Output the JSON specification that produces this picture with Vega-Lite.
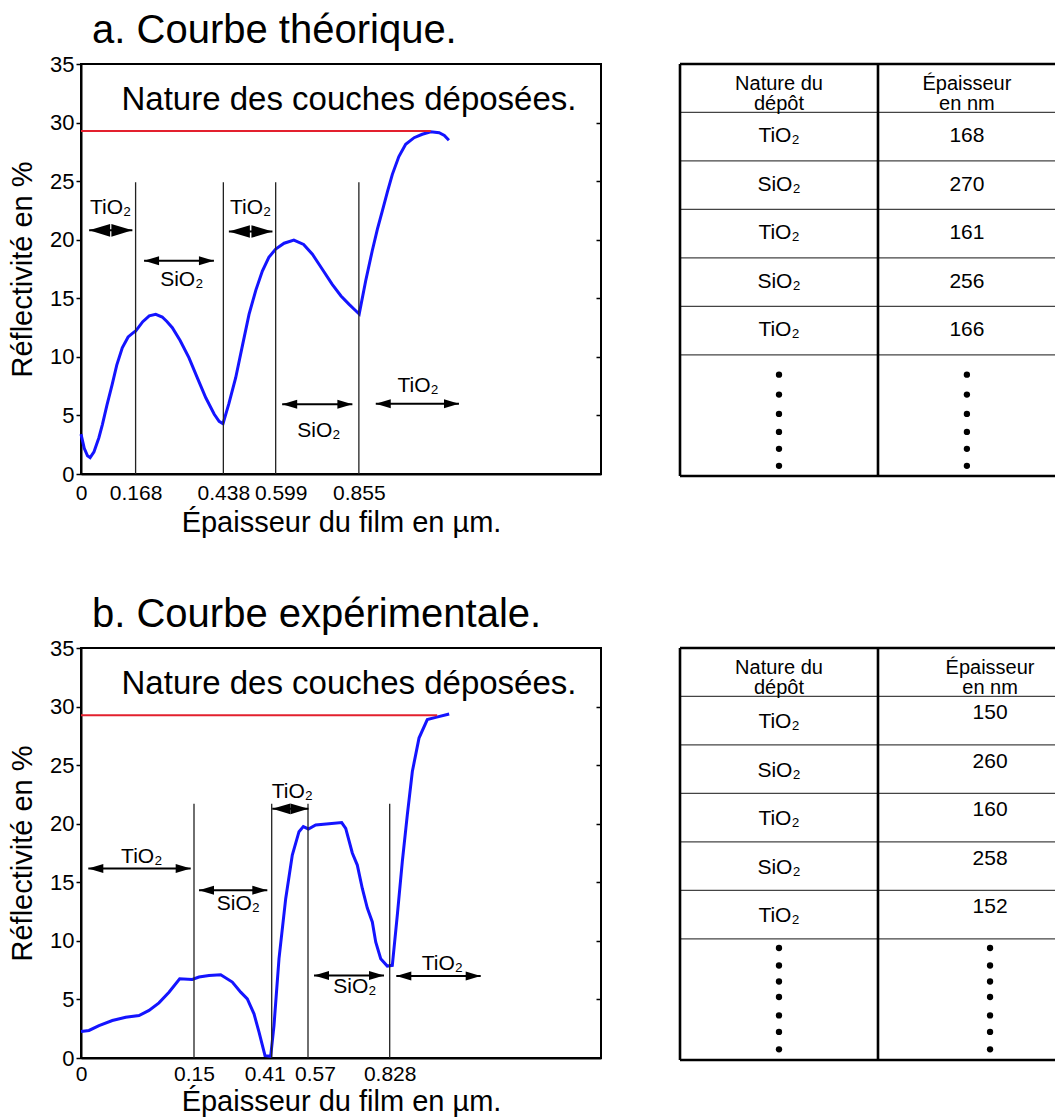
{
  "$schema": "https://vega.github.io/schema/vega-lite/v6.json",
  "background": "white",
  "padding": {"left": 7, "top": 10, "right": 0, "bottom": 0},
  "bounds": "flush",
  "columns": 2,
  "spacing": {"row": 172, "column": 79},
  "config": {
    "font": "Liberation Sans",
    "view": {"stroke": null},
    "axis": {"grid": false, "labelFont": "Liberation Sans", "titleFont": "Liberation Sans", "labelFontSize": 22, "titleFontSize": 29, "titleFontWeight": "normal", "labelColor": "black", "titleColor": "black", "domainColor": "black", "domainWidth": 2, "tickColor": "black", "tickWidth": 1.5, "labelOverlap": false, "labelFlush": false},
    "text": {"font": "Liberation Sans", "color": "black"}
  },
  "datasets": {
    "courbeA": [
      {"x": 0, "y": 3.4}, {"x": 0.01, "y": 2.2}, {"x": 0.02, "y": 1.55}, {"x": 0.028, "y": 1.4}, {"x": 0.04, "y": 1.9},
      {"x": 0.055, "y": 3.1}, {"x": 0.066, "y": 4.24}, {"x": 0.08, "y": 5.9}, {"x": 0.096, "y": 7.66}, {"x": 0.11, "y": 9.3},
      {"x": 0.127, "y": 10.78}, {"x": 0.145, "y": 11.7}, {"x": 0.16, "y": 12.05}, {"x": 0.168, "y": 12.2}, {"x": 0.19, "y": 13.0},
      {"x": 0.21, "y": 13.5}, {"x": 0.23, "y": 13.63}, {"x": 0.25, "y": 13.4}, {"x": 0.265, "y": 13.0}, {"x": 0.281, "y": 12.49},
      {"x": 0.305, "y": 11.4}, {"x": 0.332, "y": 9.93}, {"x": 0.358, "y": 8.2}, {"x": 0.384, "y": 6.51}, {"x": 0.41, "y": 5.1},
      {"x": 0.425, "y": 4.5}, {"x": 0.437, "y": 4.29}, {"x": 0.455, "y": 6.0}, {"x": 0.476, "y": 8.22}, {"x": 0.497, "y": 11.0},
      {"x": 0.517, "y": 13.63}, {"x": 0.538, "y": 15.7}, {"x": 0.558, "y": 17.33}, {"x": 0.578, "y": 18.5}, {"x": 0.599, "y": 19.2},
      {"x": 0.625, "y": 19.7}, {"x": 0.655, "y": 19.97}, {"x": 0.685, "y": 19.6}, {"x": 0.712, "y": 18.76}, {"x": 0.742, "y": 17.5},
      {"x": 0.773, "y": 16.19}, {"x": 0.8, "y": 15.2}, {"x": 0.825, "y": 14.48}, {"x": 0.843, "y": 14.0}, {"x": 0.856, "y": 13.65},
      {"x": 0.876, "y": 16.5}, {"x": 0.896, "y": 19.04}, {"x": 0.912, "y": 20.9}, {"x": 0.927, "y": 22.45}, {"x": 0.943, "y": 24.1},
      {"x": 0.958, "y": 25.58}, {"x": 0.978, "y": 27.1}, {"x": 0.999, "y": 28.15}, {"x": 1.025, "y": 28.71}, {"x": 1.05, "y": 29.0},
      {"x": 1.076, "y": 29.22}, {"x": 1.102, "y": 29.14}, {"x": 1.118, "y": 28.9}, {"x": 1.132, "y": 28.49}
    ],
    "courbeB": [
      {"x": 0, "y": 2.26}, {"x": 0.0106, "y": 2.35}, {"x": 0.0239, "y": 2.77}, {"x": 0.0416, "y": 3.2}, {"x": 0.0593, "y": 3.48},
      {"x": 0.077, "y": 3.63}, {"x": 0.0903, "y": 4.06}, {"x": 0.1035, "y": 4.71}, {"x": 0.1168, "y": 5.62}, {"x": 0.131, "y": 6.76},
      {"x": 0.1477, "y": 6.71}, {"x": 0.1667, "y": 6.91}, {"x": 0.2002, "y": 7.05}, {"x": 0.2393, "y": 7.11}, {"x": 0.2782, "y": 6.48},
      {"x": 0.3063, "y": 5.62}, {"x": 0.3284, "y": 5.05}, {"x": 0.3508, "y": 3.77}, {"x": 0.3676, "y": 2.2}, {"x": 0.3876, "y": 0.2},
      {"x": 0.4066, "y": 0.15}, {"x": 0.4201, "y": 2.77}, {"x": 0.4422, "y": 8.48}, {"x": 0.4717, "y": 13.6}, {"x": 0.5008, "y": 17.33},
      {"x": 0.5303, "y": 19.32}, {"x": 0.5493, "y": 19.75}, {"x": 0.5713, "y": 19.55}, {"x": 0.5943, "y": 19.9}, {"x": 0.6363, "y": 20.0},
      {"x": 0.6764, "y": 20.1}, {"x": 0.6891, "y": 19.6}, {"x": 0.7099, "y": 17.5}, {"x": 0.7257, "y": 16.47}, {"x": 0.7415, "y": 14.47},
      {"x": 0.7573, "y": 12.8}, {"x": 0.7731, "y": 11.62}, {"x": 0.7838, "y": 9.9}, {"x": 0.7996, "y": 8.48}, {"x": 0.8204, "y": 7.85},
      {"x": 0.8363, "y": 7.91}, {"x": 0.8522, "y": 12.19}, {"x": 0.8681, "y": 16.76}, {"x": 0.884, "y": 20.75}, {"x": 0.9, "y": 24.46},
      {"x": 0.9212, "y": 27.31}, {"x": 0.9476, "y": 28.89}, {"x": 0.9743, "y": 29.08}, {"x": 1.0172, "y": 29.37}
    ],
    "limitesA": [{"x": 0.168}, {"x": 0.438}, {"x": 0.599}, {"x": 0.855}],
    "limitesB": [{"x": 0.15}, {"x": 0.41}, {"x": 0.57}, {"x": 0.828}],
    "rougeA": [{"x": 0, "y": 29.28}, {"x": 1.076, "y": 29.28}],
    "rougeB": [{"x": 0, "y": 29.25}, {"x": 0.979, "y": 29.25}],
    "flechesA": [
      {"couche": "SiO₂", "x1": 0.194, "x2": 0.409, "y": 18.2},
      {"couche": "SiO₂", "x1": 0.619, "x2": 0.835, "y": 5.95},
      {"couche": "TiO₂", "x1": 0.907, "x2": 1.163, "y": 6.0}
    ],
    "courtesA": [
      {"couche": "TiO₂", "x1": 0.025, "x2": 0.158, "y": 20.8},
      {"couche": "TiO₂", "x1": 0.455, "x2": 0.589, "y": 20.7}
    ],
    "etiquettesA": [
      {"t": "TiO₂", "x": 0.091, "y": 22.7},
      {"t": "SiO₂", "x": 0.31, "y": 16.55},
      {"t": "TiO₂", "x": 0.522, "y": 22.7},
      {"t": "SiO₂", "x": 0.732, "y": 3.63},
      {"t": "TiO₂", "x": 1.037, "y": 7.47}
    ],
    "flechesB": [
      {"couche": "TiO₂", "x1": 0.0097, "x2": 0.1456, "y": 16.18},
      {"couche": "SiO₂", "x1": 0.1667, "x2": 0.3953, "y": 14.33},
      {"couche": "SiO₂", "x1": 0.589, "x2": 0.81, "y": 7.05},
      {"couche": "TiO₂", "x1": 0.849, "x2": 1.1174, "y": 7.0}
    ],
    "courtesB": [
      {"couche": "TiO₂", "x1": 0.4126, "x2": 0.5713, "y": 21.27}
    ],
    "etiquettesB": [
      {"t": "TiO₂", "x": 0.0806, "y": 17.2},
      {"t": "SiO₂", "x": 0.2983, "y": 13.18},
      {"t": "TiO₂", "x": 0.5008, "y": 22.7},
      {"t": "SiO₂", "x": 0.7178, "y": 6.05},
      {"t": "TiO₂", "x": 0.9953, "y": 8.05}
    ],
    "tableauA": [
      {"rang": 1, "nature": "TiO₂", "ep": 168},
      {"rang": 2, "nature": "SiO₂", "ep": 270},
      {"rang": 3, "nature": "TiO₂", "ep": 161},
      {"rang": 4, "nature": "SiO₂", "ep": 256},
      {"rang": 5, "nature": "TiO₂", "ep": 166}
    ],
    "tableauB": [
      {"rang": 1, "nature": "TiO₂", "ep": 150},
      {"rang": 2, "nature": "SiO₂", "ep": 260},
      {"rang": 3, "nature": "TiO₂", "ep": 160},
      {"rang": 4, "nature": "SiO₂", "ep": 258},
      {"rang": 5, "nature": "TiO₂", "ep": 152}
    ],
    "lignes": [{"y": 1}, {"y": 2}, {"y": 3}, {"y": 4}, {"y": 5}, {"y": 6}],
    "bordsH": [{"y": 0}, {"y": 8.5}],
    "bordsV": [{"x": 0}, {"x": 1}],
    "entetes": [{"col1": "Nature du\ndépôt", "col2": "Épaisseur\nen nm"}],
    "pointsA": [{"y": 6.41}, {"y": 6.82}, {"y": 7.22}, {"y": 7.59}, {"y": 7.94}, {"y": 8.29}],
    "pointsB": [{"y": 6.19}, {"y": 6.55}, {"y": 6.88}, {"y": 7.2}, {"y": 7.58}, {"y": 7.92}, {"y": 8.28}],
    "titre": [{"t": "Nature des couches déposées."}],
    "titreA": [{"t": "a. Courbe théorique."}],
    "titreB": [{"t": "b. Courbe expérimentale."}]
  },
  "concat": [
    {
      "width": 520, "height": 410,
      "view": {"stroke": "black", "strokeWidth": 2},
      "resolve": {"axis": {"x": "independent", "y": "independent"}},
      "layer": [
        {
          "data": {"name": "courbeA"},
          "mark": {"type": "line", "color": "#1414ff", "strokeWidth": 3},
          "encoding": {
            "x": {"field": "x", "type": "quantitative", "scale": {"domain": [0, 1.6], "nice": false, "zero": false},
              "axis": {"title": "Épaisseur du film en µm.", "values": [0, 0.168, 0.438, 0.599, 0.855], "labelExpr": "datum.value + ''", "ticks": false, "labelPadding": 8, "titlePadding": 5, "labelFontSize": 21,
                "labelOffset": {"condition": {"test": "datum.value == 0.599", "value": 5}, "value": 0}}},
            "y": {"field": "y", "type": "quantitative", "scale": {"domain": [0, 35], "nice": false, "zero": false},
              "axis": {"title": "Réflectivité en %", "values": [0, 5, 10, 15, 20, 25, 30, 35], "tickSize": 5, "labelPadding": 2, "titlePadding": 12}}
          }
        },
        {
          "data": {"name": "limitesA"},
          "mark": {"type": "rule", "color": "#222", "strokeWidth": 1.3},
          "encoding": {
            "x": {"field": "x", "type": "quantitative", "axis": null},
            "y": {"datum": 0, "type": "quantitative", "axis": null},
            "y2": {"datum": 24.9}
          }
        },
        {
          "data": {"name": "rougeA"},
          "mark": {"type": "line", "color": "#e3202e", "strokeWidth": 2},
          "encoding": {
            "x": {"field": "x", "type": "quantitative", "axis": null},
            "y": {"field": "y", "type": "quantitative", "axis": {"orient": "right", "labels": false, "domain": false, "title": null, "tickSize": -5, "values": [5, 10, 15, 20, 25, 30]}}
          }
        },
        {
          "data": {"name": "flechesA"},
          "mark": {"type": "rule", "color": "black", "strokeWidth": 2},
          "encoding": {
            "x": {"field": "x1", "type": "quantitative", "axis": null},
            "x2": {"field": "x2"},
            "y": {"field": "y", "type": "quantitative", "axis": null}
          }
        },
        {
          "data": {"name": "flechesA"},
          "mark": {"type": "point", "shape": "M0,0L2,-0.6L2,0.6Z", "filled": true, "color": "black", "opacity": 1, "size": 225, "strokeWidth": 0},
          "encoding": {
            "x": {"field": "x1", "type": "quantitative", "axis": null},
            "y": {"field": "y", "type": "quantitative", "axis": null}
          }
        },
        {
          "data": {"name": "flechesA"},
          "mark": {"type": "point", "shape": "M0,0L-2,-0.6L-2,0.6Z", "filled": true, "color": "black", "opacity": 1, "size": 225, "strokeWidth": 0},
          "encoding": {
            "x": {"field": "x2", "type": "quantitative", "axis": null},
            "y": {"field": "y", "type": "quantitative", "axis": null}
          }
        },
        {
          "data": {"name": "courtesA"},
          "mark": {"type": "rule", "color": "black", "strokeWidth": 2},
          "encoding": {
            "x": {"field": "x1", "type": "quantitative", "axis": null},
            "x2": {"field": "x2"},
            "y": {"field": "y", "type": "quantitative", "axis": null}
          }
        },
        {
          "data": {"name": "courtesA"},
          "mark": {"type": "point", "shape": "M0,0L2,-0.6L2,0.6Z", "filled": true, "color": "black", "opacity": 1, "size": 441, "strokeWidth": 0},
          "encoding": {
            "x": {"field": "x1", "type": "quantitative", "axis": null},
            "y": {"field": "y", "type": "quantitative", "axis": null}
          }
        },
        {
          "data": {"name": "courtesA"},
          "mark": {"type": "point", "shape": "M0,0L-2,-0.6L-2,0.6Z", "filled": true, "color": "black", "opacity": 1, "size": 441, "strokeWidth": 0},
          "encoding": {
            "x": {"field": "x2", "type": "quantitative", "axis": null},
            "y": {"field": "y", "type": "quantitative", "axis": null}
          }
        },
        {
          "data": {"name": "etiquettesA"},
          "mark": {"type": "text", "fontSize": 21, "align": "center", "baseline": "middle"},
          "encoding": {
            "x": {"field": "x", "type": "quantitative", "axis": null},
            "y": {"field": "y", "type": "quantitative", "axis": null},
            "text": {"field": "t"}
          }
        },
        {
          "data": {"name": "titre"},
          "mark": {"type": "text", "fontSize": 33, "align": "center", "baseline": "alphabetic"},
          "encoding": {
            "x": {"datum": 0.8246, "type": "quantitative", "axis": null},
            "y": {"datum": 31.1, "type": "quantitative", "axis": null},
            "text": {"field": "t"}
          }
        },
        {
          "data": {"name": "titreA"},
          "mark": {"type": "text", "fontSize": 40, "align": "left", "baseline": "alphabetic"},
          "encoding": {
            "x": {"datum": 0.034, "type": "quantitative", "axis": null},
            "y": {"datum": 36.79, "type": "quantitative", "axis": null},
            "text": {"field": "t"}
          }
        }
      ]
    },
    {
      "width": 375, "height": 412,
      "view": {"stroke": null},
      "layer": [
        {
          "data": {"name": "lignes"},
          "mark": {"type": "rule", "color": "#444", "strokeWidth": 1.3},
          "encoding": {
            "y": {"field": "y", "type": "quantitative", "scale": {"domain": [8.5, 0], "nice": false, "zero": false}, "axis": null},
            "x": {"datum": 0, "type": "quantitative", "scale": {"domain": [0, 1.894], "nice": false, "zero": false}, "axis": null},
            "x2": {"datum": 1.894}
          }
        },
        {
          "data": {"name": "bordsH"},
          "mark": {"type": "rule", "color": "black", "strokeWidth": 2.6},
          "encoding": {
            "y": {"field": "y", "type": "quantitative", "axis": null},
            "x": {"datum": 0, "type": "quantitative", "axis": null},
            "x2": {"datum": 1.894}
          }
        },
        {
          "data": {"name": "bordsV"},
          "mark": {"type": "rule", "color": "black", "strokeWidth": 2.6},
          "encoding": {
            "x": {"field": "x", "type": "quantitative", "axis": null},
            "y": {"datum": 0, "type": "quantitative", "axis": null},
            "y2": {"datum": 8.5}
          }
        },
        {
          "data": {"name": "entetes"},
          "mark": {"type": "text", "fontSize": 20, "align": "center", "baseline": "middle", "lineBreak": "\n", "lineHeight": 20, "dy": 20},
          "encoding": {
            "x": {"datum": 0.5, "type": "quantitative", "axis": null},
            "y": {"datum": 0, "type": "quantitative", "axis": null},
            "text": {"field": "col1"}
          }
        },
        {
          "data": {"name": "entetes"},
          "mark": {"type": "text", "fontSize": 20, "align": "center", "baseline": "middle", "lineBreak": "\n", "lineHeight": 20, "dy": 20},
          "encoding": {
            "x": {"datum": 1.449, "type": "quantitative", "axis": null},
            "y": {"datum": 0, "type": "quantitative", "axis": null},
            "text": {"field": "col2"}
          }
        },
        {
          "data": {"name": "tableauA"},
          "mark": {"type": "text", "fontSize": 21, "align": "center", "baseline": "middle", "dy": 24},
          "encoding": {
            "x": {"datum": 0.5, "type": "quantitative", "axis": null},
            "y": {"field": "rang", "type": "quantitative", "axis": null},
            "text": {"field": "nature"}
          }
        },
        {
          "data": {"name": "tableauA"},
          "mark": {"type": "text", "fontSize": 21, "align": "center", "baseline": "middle", "dy": 24},
          "encoding": {
            "x": {"datum": 1.449, "type": "quantitative", "axis": null},
            "y": {"field": "rang", "type": "quantitative", "axis": null},
            "text": {"field": "ep"}
          }
        },
        {
          "data": {"name": "pointsA"},
          "mark": {"type": "point", "shape": "circle", "filled": true, "color": "black", "opacity": 1, "size": 40},
          "encoding": {
            "x": {"datum": 0.5, "type": "quantitative", "axis": null},
            "y": {"field": "y", "type": "quantitative", "axis": null}
          }
        },
        {
          "data": {"name": "pointsA"},
          "mark": {"type": "point", "shape": "circle", "filled": true, "color": "black", "opacity": 1, "size": 40},
          "encoding": {
            "x": {"datum": 1.449, "type": "quantitative", "axis": null},
            "y": {"field": "y", "type": "quantitative", "axis": null}
          }
        }
      ]
    },
    {
      "width": 520, "height": 410,
      "view": {"stroke": "black", "strokeWidth": 2},
      "resolve": {"axis": {"x": "independent", "y": "independent"}},
      "layer": [
        {
          "data": {"name": "courbeB"},
          "mark": {"type": "line", "color": "#1414ff", "strokeWidth": 3},
          "encoding": {
            "x": {"field": "x", "type": "quantitative", "scale": {"domain": [0, 0.15, 0.41, 0.57, 0.828, 1.5], "range": [0, 113, 190.7, 227, 308.7, 520], "nice": false, "zero": false},
              "axis": {"title": "Épaisseur du film en µm.", "values": [0, 0.15, 0.41, 0.57, 0.828], "labelExpr": "datum.value + ''", "ticks": false, "labelPadding": 5, "titlePadding": 3, "labelFontSize": 21,
                "labelOffset": {"condition": [{"test": "datum.value == 0.41", "value": -7}, {"test": "datum.value == 0.57", "value": 7}], "value": 0}}},
            "y": {"field": "y", "type": "quantitative", "scale": {"domain": [0, 35], "nice": false, "zero": false},
              "axis": {"title": "Réflectivité en %", "values": [0, 5, 10, 15, 20, 25, 30, 35], "tickSize": 5, "labelPadding": 2, "titlePadding": 12}}
          }
        },
        {
          "data": {"name": "limitesB"},
          "mark": {"type": "rule", "color": "#222", "strokeWidth": 1.3},
          "encoding": {
            "x": {"field": "x", "type": "quantitative", "axis": null},
            "y": {"datum": 0, "type": "quantitative", "axis": null},
            "y2": {"datum": 21.7}
          }
        },
        {
          "data": {"name": "rougeB"},
          "mark": {"type": "line", "color": "#e3202e", "strokeWidth": 2},
          "encoding": {
            "x": {"field": "x", "type": "quantitative", "axis": null},
            "y": {"field": "y", "type": "quantitative", "axis": {"orient": "right", "labels": false, "domain": false, "title": null, "tickSize": -5, "values": [5, 10, 15, 20, 25, 30]}}
          }
        },
        {
          "data": {"name": "flechesB"},
          "mark": {"type": "rule", "color": "black", "strokeWidth": 2},
          "encoding": {
            "x": {"field": "x1", "type": "quantitative", "axis": null},
            "x2": {"field": "x2"},
            "y": {"field": "y", "type": "quantitative", "axis": null}
          }
        },
        {
          "data": {"name": "flechesB"},
          "mark": {"type": "point", "shape": "M0,0L2,-0.6L2,0.6Z", "filled": true, "color": "black", "opacity": 1, "size": 225, "strokeWidth": 0},
          "encoding": {
            "x": {"field": "x1", "type": "quantitative", "axis": null},
            "y": {"field": "y", "type": "quantitative", "axis": null}
          }
        },
        {
          "data": {"name": "flechesB"},
          "mark": {"type": "point", "shape": "M0,0L-2,-0.6L-2,0.6Z", "filled": true, "color": "black", "opacity": 1, "size": 225, "strokeWidth": 0},
          "encoding": {
            "x": {"field": "x2", "type": "quantitative", "axis": null},
            "y": {"field": "y", "type": "quantitative", "axis": null}
          }
        },
        {
          "data": {"name": "courtesB"},
          "mark": {"type": "rule", "color": "black", "strokeWidth": 2},
          "encoding": {
            "x": {"field": "x1", "type": "quantitative", "axis": null},
            "x2": {"field": "x2"},
            "y": {"field": "y", "type": "quantitative", "axis": null}
          }
        },
        {
          "data": {"name": "courtesB"},
          "mark": {"type": "point", "shape": "M0,0L2,-0.6L2,0.6Z", "filled": true, "color": "black", "opacity": 1, "size": 324, "strokeWidth": 0},
          "encoding": {
            "x": {"field": "x1", "type": "quantitative", "axis": null},
            "y": {"field": "y", "type": "quantitative", "axis": null}
          }
        },
        {
          "data": {"name": "courtesB"},
          "mark": {"type": "point", "shape": "M0,0L-2,-0.6L-2,0.6Z", "filled": true, "color": "black", "opacity": 1, "size": 324, "strokeWidth": 0},
          "encoding": {
            "x": {"field": "x2", "type": "quantitative", "axis": null},
            "y": {"field": "y", "type": "quantitative", "axis": null}
          }
        },
        {
          "data": {"name": "etiquettesB"},
          "mark": {"type": "text", "fontSize": 21, "align": "center", "baseline": "middle"},
          "encoding": {
            "x": {"field": "x", "type": "quantitative", "axis": null},
            "y": {"field": "y", "type": "quantitative", "axis": null},
            "text": {"field": "t"}
          }
        },
        {
          "data": {"name": "titre"},
          "mark": {"type": "text", "fontSize": 33, "align": "center", "baseline": "alphabetic"},
          "encoding": {
            "x": {"datum": 0.6995, "type": "quantitative", "axis": null},
            "y": {"datum": 31.1, "type": "quantitative", "axis": null},
            "text": {"field": "t"}
          }
        },
        {
          "data": {"name": "titreB"},
          "mark": {"type": "text", "fontSize": 40, "align": "left", "baseline": "alphabetic"},
          "encoding": {
            "x": {"datum": 0.0146, "type": "quantitative", "axis": null},
            "y": {"datum": 36.8, "type": "quantitative", "axis": null},
            "text": {"field": "t"}
          }
        }
      ]
    },
    {
      "width": 375, "height": 412,
      "view": {"stroke": null},
      "layer": [
        {
          "data": {"name": "lignes"},
          "mark": {"type": "rule", "color": "#444", "strokeWidth": 1.3},
          "encoding": {
            "y": {"field": "y", "type": "quantitative", "scale": {"domain": [8.5, 0], "nice": false, "zero": false}, "axis": null},
            "x": {"datum": 0, "type": "quantitative", "scale": {"domain": [0, 1.894], "nice": false, "zero": false}, "axis": null},
            "x2": {"datum": 1.894}
          }
        },
        {
          "data": {"name": "bordsH"},
          "mark": {"type": "rule", "color": "black", "strokeWidth": 2.6},
          "encoding": {
            "y": {"field": "y", "type": "quantitative", "axis": null},
            "x": {"datum": 0, "type": "quantitative", "axis": null},
            "x2": {"datum": 1.894}
          }
        },
        {
          "data": {"name": "bordsV"},
          "mark": {"type": "rule", "color": "black", "strokeWidth": 2.6},
          "encoding": {
            "x": {"field": "x", "type": "quantitative", "axis": null},
            "y": {"datum": 0, "type": "quantitative", "axis": null},
            "y2": {"datum": 8.5}
          }
        },
        {
          "data": {"name": "entetes"},
          "mark": {"type": "text", "fontSize": 20, "align": "center", "baseline": "middle", "lineBreak": "\n", "lineHeight": 20, "dy": 20},
          "encoding": {
            "x": {"datum": 0.5, "type": "quantitative", "axis": null},
            "y": {"datum": 0, "type": "quantitative", "axis": null},
            "text": {"field": "col1"}
          }
        },
        {
          "data": {"name": "entetes"},
          "mark": {"type": "text", "fontSize": 20, "align": "center", "baseline": "middle", "lineBreak": "\n", "lineHeight": 20, "dy": 20},
          "encoding": {
            "x": {"datum": 1.566, "type": "quantitative", "axis": null},
            "y": {"datum": 0, "type": "quantitative", "axis": null},
            "text": {"field": "col2"}
          }
        },
        {
          "data": {"name": "tableauB"},
          "mark": {"type": "text", "fontSize": 21, "align": "center", "baseline": "middle", "dy": 26},
          "encoding": {
            "x": {"datum": 0.5, "type": "quantitative", "axis": null},
            "y": {"field": "rang", "type": "quantitative", "axis": null},
            "text": {"field": "nature"}
          }
        },
        {
          "data": {"name": "tableauB"},
          "mark": {"type": "text", "fontSize": 21, "align": "center", "baseline": "middle", "dy": 17},
          "encoding": {
            "x": {"datum": 1.566, "type": "quantitative", "axis": null},
            "y": {"field": "rang", "type": "quantitative", "axis": null},
            "text": {"field": "ep"}
          }
        },
        {
          "data": {"name": "pointsB"},
          "mark": {"type": "point", "shape": "circle", "filled": true, "color": "black", "opacity": 1, "size": 40},
          "encoding": {
            "x": {"datum": 0.5, "type": "quantitative", "axis": null},
            "y": {"field": "y", "type": "quantitative", "axis": null}
          }
        },
        {
          "data": {"name": "pointsB"},
          "mark": {"type": "point", "shape": "circle", "filled": true, "color": "black", "opacity": 1, "size": 40},
          "encoding": {
            "x": {"datum": 1.566, "type": "quantitative", "axis": null},
            "y": {"field": "y", "type": "quantitative", "axis": null}
          }
        }
      ]
    }
  ]
}
